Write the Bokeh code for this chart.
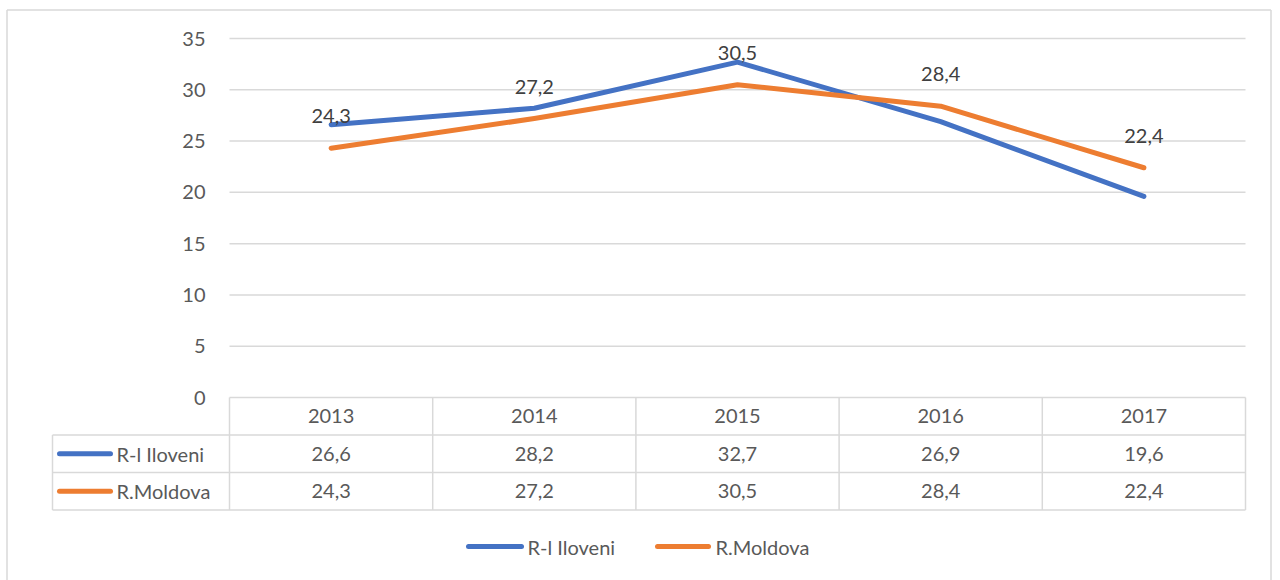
from bokeh.plotting import figure
from bokeh.models import Range1d
from bokeh.core.properties import value
from bokeh.embed import file_html
from bokeh.resources import INLINE

# ---------------- data ----------------
years = ["2013", "2014", "2015", "2016", "2017"]
iloveni = [26.6, 28.2, 32.7, 26.9, 19.6]
moldova = [24.3, 27.2, 30.5, 28.4, 22.4]
series_names = ["R-l  Iloveni", "R.Moldova"]
series_colors = ["#4472C4", "#ED7D31"]
y_ticks = [0, 5, 10, 15, 20, 25, 30, 35]

FONT = value("Lato")
TXT = "#595959"
LBL = "#404040"
GRID = "#d9d9d9"

# ---------------- layout helpers (page pixels -> data units) ----------------
W, H = 1280, 580
ORIGIN = 0             # page offset of the figure
COL_W = 203.2          # px per category
X_PLOT_L = 229.0       # px of the left edge of the plot area (x = -0.5)
Y_ZERO = 397.0         # px of value 0
PX_PER_UNIT = 10.257   # px per value unit


def dx(px):
    return -0.5 + (px - X_PLOT_L) / COL_W


def dy(py):
    return (Y_ZERO - py) / PX_PER_UNIT


p = figure(width=W, height=H, output_backend="svg", toolbar_location=None,
           x_range=Range1d(dx(ORIGIN), dx(ORIGIN + W)),
           y_range=Range1d(dy(ORIGIN + H), dy(ORIGIN)),
           min_border=0)
p.axis.visible = False
p.grid.visible = False
p.outline_line_color = None
p.background_fill_color = "white"
p.border_fill_color = "white"

n = len(years)
xs = list(range(n))

# outer chart border (left, top, right; bottom lies below the window)
p.segment(x0=[dx(6.5), dx(6.5), dx(1270.5)], y0=[dy(9.5), dy(9.5), dy(9.5)],
          x1=[dx(6.5), dx(1270.5), dx(1270.5)], y1=[dy(700), dy(9.5), dy(700)],
          line_color=GRID, line_width=1.5)

# horizontal gridlines
gt = [t for t in y_ticks if t > 0]
p.segment(x0=[-0.5] * len(gt), x1=[n - 0.5] * len(gt), y0=gt, y1=gt,
          line_color=GRID, line_width=1.5)

# y tick labels
p.text(x=[dx(205)] * len(y_ticks), y=y_ticks, text=[str(t) for t in y_ticks],
       text_align="right", text_baseline="middle", text_font=FONT,
       text_font_size="20px", text_color=TXT)

# ---------------- data table ----------------
row_edges = [397.0, 434.5, 472.0, 509.5]
TABLE_L = 52.0
# horizontal lines
hx0 = [-0.5, dx(TABLE_L), dx(TABLE_L), dx(TABLE_L)]
hy = [dy(r) for r in row_edges]
p.segment(x0=hx0, x1=[n - 0.5] * 4, y0=hy, y1=hy, line_color=GRID, line_width=1.5)
# vertical lines
vx = [dx(TABLE_L)] + [k - 0.5 for k in range(n + 1)]
vy0 = [dy(row_edges[1])] + [dy(row_edges[0])] * (n + 1)
p.segment(x0=vx, x1=vx, y0=vy0, y1=[dy(row_edges[3])] * (n + 2),
          line_color=GRID, line_width=1.5)

row_centers = [(row_edges[i] + row_edges[i + 1]) / 2 for i in range(3)]


def fmt(v):
    return f"{v:.1f}".replace(".", ",")


# header row
p.text(x=xs, y=[dy(row_centers[0])] * n, text=years, text_align="center",
       text_baseline="middle", text_font=FONT, text_font_size="20px", text_color=TXT)
for i, vals in enumerate([iloveni, moldova]):
    yc = dy(row_centers[i + 1])
    p.text(x=xs, y=[yc] * n, text=[fmt(v) for v in vals], text_align="center",
           text_baseline="middle", text_font=FONT, text_font_size="20px", text_color=TXT)
    # legend key in table
    p.segment(x0=[dx(59)], x1=[dx(110)], y0=[yc], y1=[yc], line_color=series_colors[i],
              line_width=5, line_cap="round")
    p.text(x=[dx(116)], y=[yc], text=[series_names[i]], text_align="left",
           text_baseline="middle", text_font=FONT, text_font_size="20px", text_color=TXT)

# ---------------- lines ----------------
for vals, col in zip([iloveni, moldova], series_colors):
    p.line(x=xs, y=vals, line_color=col, line_width=5, line_cap="round", line_join="round")

# data labels (R.Moldova)
p.text(x=xs, y=moldova, text=[fmt(v) for v in moldova], text_align="center",
       text_baseline="middle", y_offset=-32, text_font=FONT, text_font_size="20px",
       text_color=LBL)

# ---------------- bottom legend ----------------
leg_y = dy(546)
leg_key_x0 = [dx(468), dx(657)]
leg_key_x1 = [dx(521), dx(708)]
leg_txt_x = [dx(527), dx(715)]
p.segment(x0=leg_key_x0, x1=leg_key_x1, y0=[leg_y] * 2, y1=[leg_y] * 2,
          line_color=series_colors, line_width=5, line_cap="round")
p.text(x=leg_txt_x, y=[leg_y] * 2, text=series_names, text_align="left",
       text_baseline="middle", text_font=FONT, text_font_size="20px", text_color=TXT)

open("out.html", "w").write(file_html(p, INLINE))
